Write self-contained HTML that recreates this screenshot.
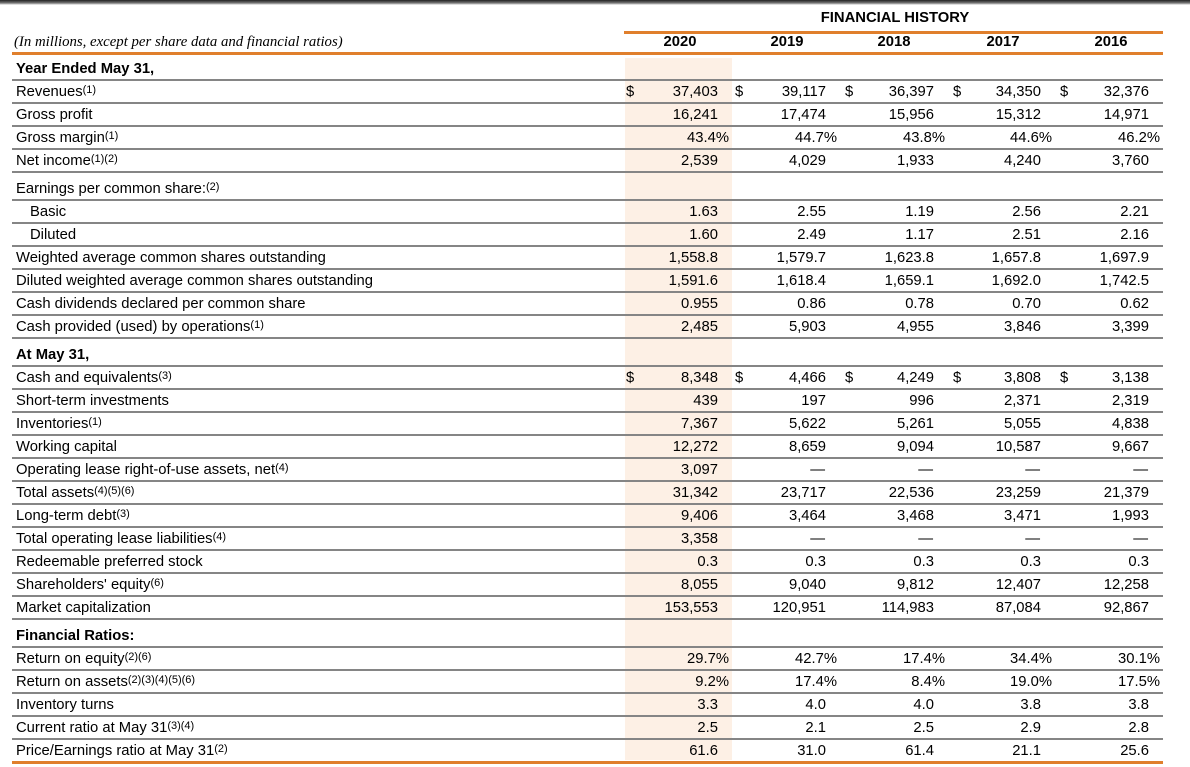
<!DOCTYPE html>
<html><head><meta charset="utf-8">
<style>
html,body{margin:0;padding:0;background:#fff;}
body{width:1190px;height:767px;position:relative;overflow:hidden;font-family:"Liberation Sans",Arial,sans-serif;font-size:14.8px;color:#000;}
.a{position:absolute;white-space:nowrap;line-height:16px;}
.r{text-align:right;}
sup{font-size:11px;vertical-align:3px;line-height:0;}
.ln{position:absolute;left:12px;width:1151px;height:2px;background:#858585;}
.or{position:absolute;height:3px;background:#e07f2c;}
</style></head>
<body>
<div style="position:absolute;left:0;top:0;width:1190px;height:5px;background:linear-gradient(#222,#777 60%,#fff);"></div>
<div style="position:absolute;left:625px;top:58px;width:107px;height:702px;background:#fdf0e5;"></div>
<div class="a" style="left:795px;top:10px;width:200px;text-align:center;font-weight:bold;">FINANCIAL HISTORY</div>
<div class="or" style="left:624px;top:31px;width:539px;"></div>
<div class="a" style="left:14px;top:34px;font-family:'Liberation Serif',serif;font-style:italic;font-size:14.8px;">(In millions, except per share data and financial ratios)</div>
<div class="or" style="left:12px;top:52px;width:1151px;"></div>
<div id="t"></div>
<script>
const years=["2020","2019","2018","2017","2016"];
const yearCenters=[680,787,894,1003,1111];
const rightEdges=[718,826,934,1041,1149];
const dollarX=[626,735,845,953,1060];
// rows: [label, superscript, indent, bold/header, dollar, values]
const rows=[
["Year Ended May 31,","",0,1,0,null],
["Revenues","(1)",0,0,1,["37,403","39,117","36,397","34,350","32,376"]],
["Gross profit","",0,0,0,["16,241","17,474","15,956","15,312","14,971"]],
["Gross margin","(1)",0,0,0,["43.4%","44.7%","43.8%","44.6%","46.2%"]],
["Net income","(1)(2)",0,0,0,["2,539","4,029","1,933","4,240","3,760"]],
["Earnings per common share:","(2)",0,2,0,null],
["Basic","",1,0,0,["1.63","2.55","1.19","2.56","2.21"]],
["Diluted","",1,0,0,["1.60","2.49","1.17","2.51","2.16"]],
["Weighted average common shares outstanding","",0,0,0,["1,558.8","1,579.7","1,623.8","1,657.8","1,697.9"]],
["Diluted weighted average common shares outstanding","",0,0,0,["1,591.6","1,618.4","1,659.1","1,692.0","1,742.5"]],
["Cash dividends declared per common share","",0,0,0,["0.955","0.86","0.78","0.70","0.62"]],
["Cash provided (used) by operations","(1)",0,0,0,["2,485","5,903","4,955","3,846","3,399"]],
["At May 31,","",0,1,0,null],
["Cash and equivalents","(3)",0,0,1,["8,348","4,466","4,249","3,808","3,138"]],
["Short-term investments","",0,0,0,["439","197","996","2,371","2,319"]],
["Inventories","(1)",0,0,0,["7,367","5,622","5,261","5,055","4,838"]],
["Working capital","",0,0,0,["12,272","8,659","9,094","10,587","9,667"]],
["Operating lease right-of-use assets, net","(4)",0,0,0,["3,097","—","—","—","—"]],
["Total assets","(4)(5)(6)",0,0,0,["31,342","23,717","22,536","23,259","21,379"]],
["Long-term debt","(3)",0,0,0,["9,406","3,464","3,468","3,471","1,993"]],
["Total operating lease liabilities","(4)",0,0,0,["3,358","—","—","—","—"]],
["Redeemable preferred stock","",0,0,0,["0.3","0.3","0.3","0.3","0.3"]],
["Shareholders' equity","(6)",0,0,0,["8,055","9,040","9,812","12,407","12,258"]],
["Market capitalization","",0,0,0,["153,553","120,951","114,983","87,084","92,867"]],
["Financial Ratios:","",0,1,0,null],
["Return on equity","(2)(6)",0,0,0,["29.7%","42.7%","17.4%","34.4%","30.1%"]],
["Return on assets","(2)(3)(4)(5)(6)",0,0,0,["9.2%","17.4%","8.4%","19.0%","17.5%"]],
["Inventory turns","",0,0,0,["3.3","4.0","4.0","3.8","3.8"]],
["Current ratio at May 31","(3)(4)",0,0,0,["2.5","2.1","2.5","2.9","2.8"]],
["Price/Earnings ratio at May 31","(2)",0,0,0,["61.6","31.0","61.4","21.1","25.6"]]
];
const t=document.getElementById('t');
years.forEach((y,i)=>{
 const d=document.createElement('div');
 d.className='a';
 
 
 d.style.cssText=`left:${yearCenters[i]-40}px;top:34px;width:80px;text-align:center;font-weight:bold;`;
 d.textContent=y;t.appendChild(d);
});
let y=68;
rows.forEach((r,ri)=>{
 if(ri>0 && r[3]) y+=5;
 const top=y-7;
 const slug=r[0].toLowerCase().replace(/[^a-z0-9]+/g,'-').replace(/-$/,'');
 const l=document.createElement('div');
 l.className='a';
 
 
 l.style.cssText=`left:${r[2]?30:16}px;top:${top}px;`+(r[3]==1?'font-weight:bold;':'');
 l.innerHTML=r[0]+(r[1]?'<sup>'+r[1]+'</sup>':'');
 t.appendChild(l);
 if(r[5]){
  r[5].forEach((v,i)=>{
   const d=document.createElement('div');
   d.className='a r';
   
   
   let re=rightEdges[i];
   if(v.endsWith('%')) re+=11;
   if(v==='—') re=rightEdges[i]-1;
   d.style.cssText=`left:${re-100}px;top:${top}px;width:100px;`;
   d.textContent=v;t.appendChild(d);
   if(r[4]){
    const s=document.createElement('div');
    s.className='a';
    
    
    s.style.cssText=`left:${dollarX[i]}px;top:${top}px;`;
    s.textContent='$';t.appendChild(s);
   }
  });
 }
 const ln=document.createElement('div');
 ln.className=(ri===rows.length-1)?'or':'ln';
 
 
 if(ri===rows.length-1) ln.style.cssText=`left:12px;width:1151px;top:${y+11}px;`;
 else ln.style.top=(y+11)+'px';
 t.appendChild(ln);
 y+=23;
});
</script>
</body></html>
